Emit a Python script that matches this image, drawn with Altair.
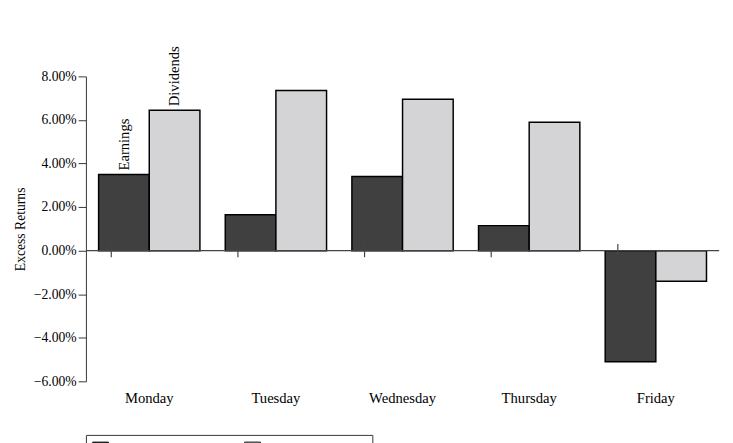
import altair as alt
import pandas as pd

days = ["Monday", "Tuesday", "Wednesday", "Thursday", "Friday"]
eps = [3.5, 1.65, 3.4, 1.15, -5.1]
dps = [6.45, 7.35, 6.95, 5.9, -1.4]
series = ["% Change (EPS)", "% Change (DPS)"]

rows = []
for d, e, v in zip(days, eps, dps):
    rows.append({"day": d, "series": series[0], "value": e / 100})
    rows.append({"day": d, "series": series[1], "value": v / 100})
df = pd.DataFrame(rows)

notes = pd.DataFrame({
    "day": ["Monday", "Monday"],
    "series": series,
    "value": [eps[0] / 100, dps[0] / 100],
    "label": ["Earnings", "Dividends"],
})

font = "Liberation Serif"
x = alt.X("day:N", sort=days, title=None,
          scale=alt.Scale(paddingInner=0.2, paddingOuter=0.1),
          axis=alt.Axis(domain=False, ticks=False, labelAngle=0, labelPadding=10,
                        labelFontSize=15, labelFont=font, labelColor="black"))
y = alt.Y("value:Q", title="Excess Returns",
          scale=alt.Scale(domain=[-0.06, 0.08], nice=False),
          axis=alt.Axis(format=".2%", values=[-0.06, -0.04, -0.02, 0, 0.02, 0.04, 0.06, 0.08],
                        grid=False, domainColor="#333", tickColor="#333", tickSize=8,
                        labelFontSize=14, labelFont=font, labelColor="black",
                        titleFont=font, titleFontSize=14, titleFontWeight="normal",
                        titleColor="black", titlePadding=6))
xoff = alt.XOffset("series:N", sort=series)

bars = alt.Chart(df).mark_bar(stroke="black", strokeWidth=1.5).encode(
    x=x, xOffset=xoff, y=y,
    color=alt.Color("series:N", sort=series,
                    scale=alt.Scale(domain=series, range=["#404040", "#d4d4d6"]),
                    legend=alt.Legend(title=None, orient="bottom", direction="horizontal",
                                      symbolType="square", symbolSize=260,
                                      symbolStrokeColor="black", symbolStrokeWidth=1,
                                      labelFont=font, labelFontSize=15, labelColor="black",
                                      strokeColor="#333", padding=6, offset=30,
                                      columnPadding=30)),
)

zero = alt.Chart(pd.DataFrame({"v": [0]})).mark_rule(color="#444", strokeWidth=1.2).encode(y="v:Q")

ticks = alt.Chart(pd.DataFrame({"day": days, "lo": [-0.003] * 5, "hi": [0.003] * 5})).mark_rule(
    color="#444", strokeWidth=1.2).encode(
    x=alt.X("day:N", sort=days, bandPosition=1), xOffset=alt.value(13),
    y="lo:Q", y2="hi:Q")

text = alt.Chart(notes).mark_text(angle=270, align="left", dx=4, dy=0, fontSize=15,
                                  font=font, color="black").encode(
    x=x, xOffset=xoff, y=y, text="label:N")

chart = alt.layer(bars, zero, ticks, text).properties(
    width=650, height=313, padding={"top": 32, "left": 5, "right": 5, "bottom": 5}
).configure_view(stroke=None)

chart.save("out.html", embed_options={"renderer": "svg", "actions": False})
